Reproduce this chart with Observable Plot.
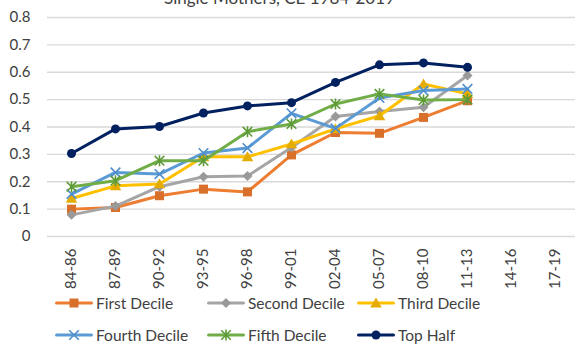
<!DOCTYPE html>
<html><head><meta charset="utf-8">
<script src="https://cdn.jsdelivr.net/npm/d3@7"></script>
<script src="https://cdn.jsdelivr.net/npm/@observablehq/plot@0.6"></script>
<style>
body{margin:0;background:#fff;}
#wrap{position:relative;width:575px;height:350px;overflow:hidden;font-family:Lato,"Noto Sans",sans-serif;color:#404040;}
#title{position:absolute;left:0;width:559px;text-align:center;top:-11px;font-size:17px;line-height:17px;white-space:nowrap;}
#chart{position:absolute;left:0;top:0;}
.leg{position:absolute;display:flex;align-items:center;height:18px;font-size:15.5px;white-space:nowrap;color:#404040;}
.leg svg{margin-right:3px;display:block;}
</style></head><body>
<div id="wrap"><div id="title">Single Mothers, CE 1984-2019</div><div id="chart"></div><div id="legend"></div></div>
<script>
const periods = ["84-86","87-89","90-92","93-95","96-98","99-01","02-04","05-07","08-10","11-13","14-16","17-19"];
const seriesNames = ["First Decile","Second Decile","Third Decile","Fourth Decile","Fifth Decile","Top Half"];
const firstDecile  = [0.100,0.106,0.149,0.173,0.163,0.298,0.380,0.377,0.435,0.496];
const secondDecile = [0.079,0.111,0.182,0.218,0.221,0.325,0.438,0.457,0.472,0.588];
const thirdDecile  = [0.139,0.185,0.192,0.291,0.291,0.338,0.393,0.441,0.557,0.521];
const fourthDecile = [0.155,0.234,0.228,0.305,0.323,0.450,0.395,0.506,0.533,0.539];
const fifthDecile  = [0.182,0.204,0.277,0.277,0.383,0.411,0.484,0.521,0.499,0.500];
const topHalf      = [0.303,0.393,0.402,0.451,0.477,0.489,0.563,0.627,0.634,0.618];
const yTicks = [0,0.1,0.2,0.3,0.4,0.5,0.6,0.7,0.8];

const seriesValues = [firstDecile, secondDecile, thirdDecile, fourthDecile, fifthDecile, topHalf];

const R = s => Math.sqrt(s / Math.PI);
const symSquare = {draw(c, s){ const r = R(s); c.moveTo(-r,-r); c.lineTo(r,-r); c.lineTo(r,r); c.lineTo(-r,r); c.closePath(); }};
const symDiamond = {draw(c, s){ const r = R(s); c.moveTo(0,-r); c.lineTo(r,0); c.lineTo(0,r); c.lineTo(-r,0); c.closePath(); }};
const symTriangle = {draw(c, s){ const r = R(s); c.moveTo(0,-r); c.lineTo(r*1.05,r*0.8); c.lineTo(-r*1.05,r*0.8); c.closePath(); }};
const symX = {draw(c, s){ const r = R(s); c.moveTo(-r,-r); c.lineTo(r,r); c.moveTo(r,-r); c.lineTo(-r,r); }};
const symStar = {draw(c, s){ const r = R(s); c.moveTo(-r,-r); c.lineTo(r,r); c.moveTo(r,-r); c.lineTo(-r,r); c.moveTo(0,-r*1.15); c.lineTo(0,r*1.15); }};

const styles = [
  {line:"#ED7D31", symbol:symSquare,  fill:"#D86F2B", stroke:"none", r:4.5},
  {line:"#A5A5A5", symbol:symDiamond, fill:"#999999", stroke:"none", r:5},
  {line:"#FFC000", symbol:symTriangle,fill:"#E5AC00", stroke:"none", r:5.5},
  {line:"#5B9BD5", symbol:symX,       fill:"none", stroke:"#4F8FCB", r:4.8},
  {line:"#70AD47", symbol:symStar,    fill:"none", stroke:"#5E9B38", r:4.8},
  {line:"#002060", symbol:"circle",   fill:"#002060", stroke:"none", r:4.5}
];

const seriesMarks = [];
seriesNames.forEach((name, i) => {
  const data = seriesValues[i].map((v, j) => ({period: periods[j], value: v, series: name}));
  const st = styles[i];
  seriesMarks.push(Plot.line(data, {x:"period", y:"value", stroke: st.line, strokeWidth:3, strokeLinejoin:"round", strokeLinecap:"round"}));
  seriesMarks.push(Plot.dot(data, {x:"period", y:"value", symbol: st.symbol, r: st.r, fill: st.fill, stroke: st.stroke, strokeWidth:1.6}));
});

const chart = Plot.plot({
  width:575, height:290,
  marginTop:17, marginBottom:54, marginLeft:47, marginRight:0,
  style:{fontFamily:"Lato, 'Noto Sans', sans-serif", fontSize:"15px", color:"#404040", background:"transparent", overflow:"visible"},
  x:{type:"point", domain: periods, range:[69, 556.3], padding:0},
  y:{domain:[0,0.8]},
  marks:[
    Plot.gridY(yTicks, {stroke:"#d9d9d9", strokeOpacity:1, strokeWidth:1.3}),
    Plot.axisX({tickRotate:-90, tickSize:0, tickPadding:12, label:null}),
    Plot.axisY(yTicks, {tickSize:0, tickPadding:17, tickFormat: d => d === 0 ? "0" : d.toFixed(1), label:null}),
    ...seriesMarks
  ]
});
document.getElementById("chart").appendChild(chart);

// legend
const legendPos = [[55,294],[207,294],[357,294],[55,326],[207,326],[357,326]];
const legend = document.getElementById("legend");
const ns = "http://www.w3.org/2000/svg";
seriesNames.forEach((name, i) => {
  const st = styles[i];
  const div = document.createElement("div");
  div.className = "leg";
  div.style.left = legendPos[i][0] + "px";
  div.style.top = legendPos[i][1] + "px";
  const svg = document.createElementNS(ns, "svg");
  svg.setAttribute("width", 38); svg.setAttribute("height", 14);
  const ln = document.createElementNS(ns, "line");
  ln.setAttribute("x1", 1.5); ln.setAttribute("x2", 36.5); ln.setAttribute("y1", 7); ln.setAttribute("y2", 7);
  ln.setAttribute("stroke", st.line); ln.setAttribute("stroke-width", 3); ln.setAttribute("stroke-linecap", "round");
  svg.appendChild(ln);
  const p = document.createElementNS(ns, "path");
  const sym = st.symbol === "circle" ? d3.symbolCircle : st.symbol;
  p.setAttribute("d", d3.symbol(sym, Math.PI * st.r * st.r)());
  p.setAttribute("transform", "translate(19,7)");
  p.setAttribute("fill", st.fill); p.setAttribute("stroke", st.stroke); p.setAttribute("stroke-width", 1.6);
  svg.appendChild(p);
  div.appendChild(svg);
  const sp = document.createElement("span");
  sp.textContent = name;
  div.appendChild(sp);
  legend.appendChild(div);
});
</script>
</body></html>
